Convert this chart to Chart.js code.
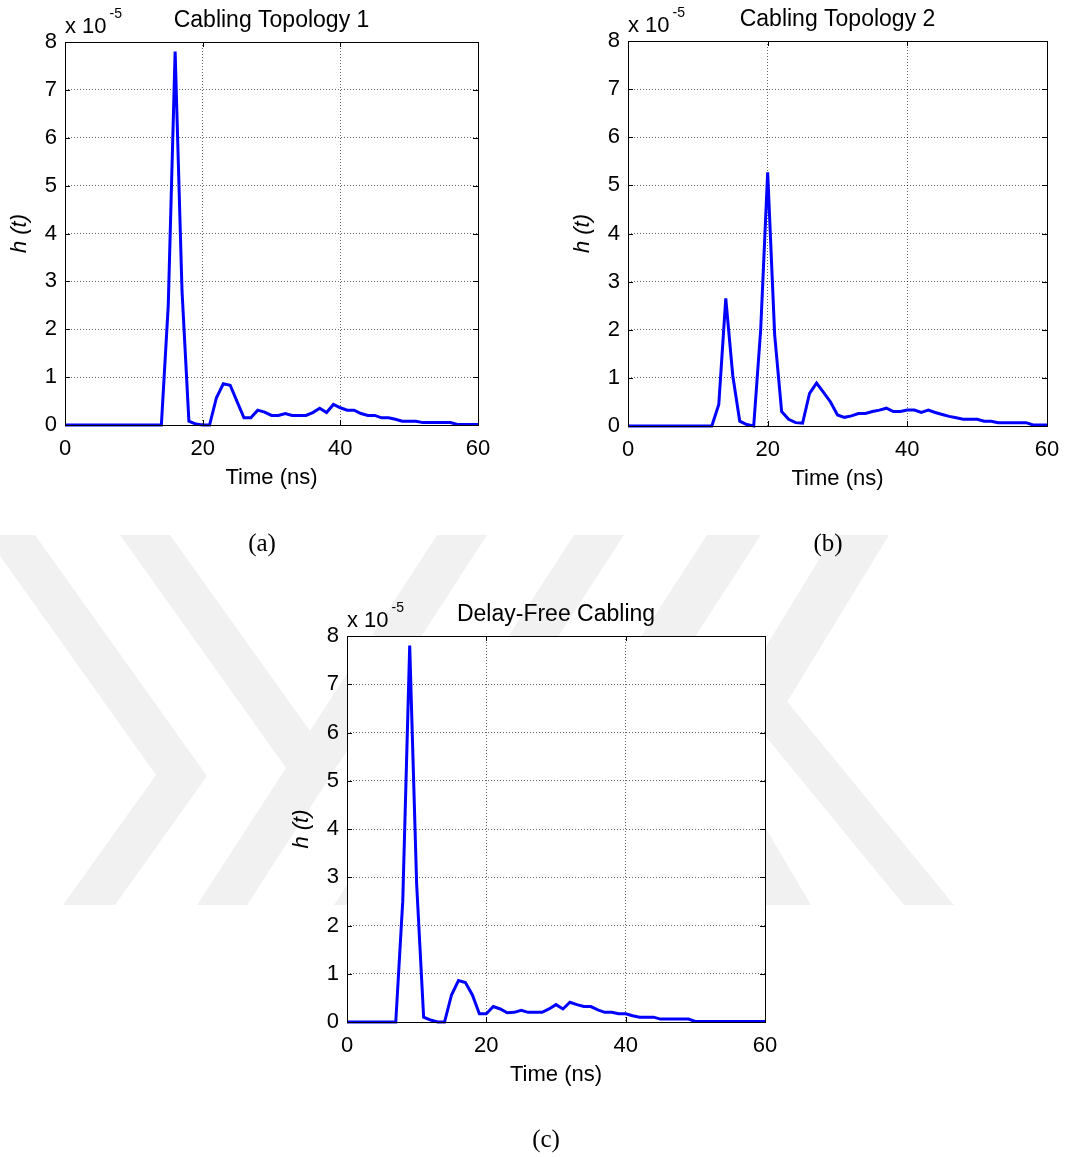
<!DOCTYPE html>
<html>
<head>
<meta charset="utf-8">
<title>Impulse responses</title>
<script src="https://cdn.jsdelivr.net/npm/chart.js@4.4.1/dist/chart.umd.min.js"></script>
<style>
    html, body { margin: 0; padding: 0; background: #fff; }
    #page { position: relative; width: 1069px; height: 1157px; overflow: hidden; }
    #watermark { position: absolute; left: 0; top: 0; }
    .plot { position: absolute; }
    .caption {
        position: absolute;
        font-family: "Liberation Serif", "Times New Roman", serif;
        font-size: 25px;
        color: #000;
        transform: translate(-50%, -50%);
        white-space: nowrap;
    }
</style>
</head>
<body>
<div id="page">
    <canvas id="watermark" width="1069" height="1157"></canvas>
    <canvas id="chartA" class="plot"></canvas>
    <canvas id="chartB" class="plot"></canvas>
    <canvas id="chartC" class="plot"></canvas>
    <div class="caption" style="left:262px; top:543px;">(a)</div>
    <div class="caption" style="left:828px; top:543px;">(b)</div>
    <div class="caption" style="left:546px; top:1139px;">(c)</div>
</div>
<script>
// --- data (h(t) in units of 1e-5) ---
const timeNs = [0, 1, 2, 3, 4, 5, 6, 7, 8, 9, 10, 11, 12, 13, 14, 15, 16, 17, 18, 19, 20,
    21, 22, 23, 24, 25, 26, 27, 28, 29, 30, 31, 32, 33, 34, 35, 36, 37, 38, 39, 40,
    41, 42, 43, 44, 45, 46, 47, 48, 49, 50, 51, 52, 53, 54, 55, 56, 57, 58, 59, 60];

const hTopology1 = [0, 0, 0, 0, 0, 0, 0, 0, 0, 0, 0, 0, 0, 0, 0, 2.5, 7.8, 2.8, 0.08, 0.02, 0,
    0, 0.57, 0.86, 0.83, 0.49, 0.15, 0.15, 0.31, 0.27, 0.2, 0.2, 0.24, 0.2, 0.2, 0.2, 0.26, 0.35, 0.26, 0.43, 0.36,
    0.31, 0.31, 0.24, 0.2, 0.2, 0.15, 0.15, 0.12, 0.08, 0.08, 0.08, 0.05, 0.05, 0.05, 0.05, 0.05, 0.01, 0.01, 0.01, 0.01];

const hTopology2 = [0, 0, 0, 0, 0, 0, 0, 0, 0, 0, 0, 0, 0, 0.45, 2.65, 1.05, 0.1, 0.03, 0, 2.0, 5.27,
    1.9, 0.3, 0.14, 0.07, 0.06, 0.68, 0.89, 0.7, 0.5, 0.23, 0.18, 0.21, 0.26, 0.26, 0.3, 0.33, 0.37, 0.3, 0.3, 0.33,
    0.33, 0.28, 0.33, 0.28, 0.24, 0.2, 0.17, 0.14, 0.14, 0.14, 0.1, 0.1, 0.07, 0.07, 0.07, 0.07, 0.07, 0.02, 0.02, 0.02];

const hDelayFree = [0, 0, 0, 0, 0, 0, 0, 0, 2.5, 7.8, 2.85, 0.1, 0.04, 0, 0, 0.56, 0.86, 0.82, 0.56, 0.17, 0.17,
    0.32, 0.27, 0.19, 0.2, 0.24, 0.2, 0.2, 0.2, 0.27, 0.36, 0.27, 0.41, 0.36, 0.32, 0.32, 0.25, 0.2, 0.2, 0.17, 0.17,
    0.13, 0.1, 0.1, 0.1, 0.06, 0.06, 0.06, 0.06, 0.06, 0.01, 0.01, 0.01, 0.01, 0.01, 0.01, 0.01, 0.01, 0.01, 0.01, 0.01];

const xTicks = [0, 20, 40, 60];
const yTicks = [0, 1, 2, 3, 4, 5, 6, 7, 8];
const xTitle = 'Time (ns)';
const yTitle = 'h (t)';
const yExponent = '-5';
const panelTitles = ['Cabling Topology 1', 'Cabling Topology 2', 'Delay-Free Cabling'];

// --- layout ---
const FONT = '"Liberation Sans", Arial, Helvetica, sans-serif';
const Y_AXIS_W = 65;     // room left of the axes for tick labels + y title
const X_AXIS_H = 75;     // room under the axes for tick labels + x title
const TITLE_H = 42;      // room above the axes
const RIGHT_PAD = 24;    // must cover half of the last x label

const panels = [
    { canvas: 'chartA', title: panelTitles[0], values: hTopology1, box: { left: 65, top: 42, right: 478, bottom: 425 } },
    { canvas: 'chartB', title: panelTitles[1], values: hTopology2, box: { left: 628, top: 41, right: 1047, bottom: 426 } },
    { canvas: 'chartC', title: panelTitles[2], values: hDelayFree, box: { left: 347, top: 636, right: 765, bottom: 1022 } }
];

// Faint thesis watermark behind the figure
const drawWatermark = () => {
    const ctx = document.getElementById('watermark').getContext('2d');
    const bands = [
        [[-15, 535], [35, 535], [207, 776], [115, 905], [63, 905], [156, 775]],
        [[120, 535], [170, 535], [310, 731], [286, 768]],
        [[437, 535], [487, 535], [247, 905], [197, 905]],
        [[574, 535], [624, 535], [384, 905], [334, 905]],
        [[707, 535], [761, 535], [521, 905], [467, 905]],
        [[834, 535], [889, 535], [663, 905], [608, 905]],
        [[699, 655], [749, 655], [954, 905], [904, 905]],
        [[640, 700], [690, 700], [811, 905], [761, 905]]
    ];
    ctx.fillStyle = '#f1f1f1';
    bands.forEach(poly => {
        ctx.beginPath();
        poly.forEach(([x, y], i) => i ? ctx.lineTo(x, y) : ctx.moveTo(x, y));
        ctx.closePath();
        ctx.fill();
    });
};

// MATLAB-style axes: white plot area, full box, inward ticks, exponent label
const matlabAxes = {
    id: 'matlabAxes',
    beforeDraw(chart) {
        const { ctx, chartArea: a } = chart;
        ctx.save();
        ctx.fillStyle = '#fff';
        ctx.fillRect(a.left, a.top, a.right - a.left, a.bottom - a.top);
        ctx.restore();
    },
    afterDraw(chart) {
        const { ctx, chartArea: a, scales: { x, y } } = chart;
        const tick = 5;
        ctx.save();
        ctx.setLineDash([]);
        ctx.strokeStyle = '#000';
        ctx.lineWidth = 1;
        ctx.beginPath();
        x.ticks.forEach(t => {
            const px = Math.round(x.getPixelForValue(t.value)) + 0.5;
            ctx.moveTo(px, a.bottom); ctx.lineTo(px, a.bottom - tick);
            ctx.moveTo(px, a.top); ctx.lineTo(px, a.top + tick);
        });
        y.ticks.forEach(t => {
            const py = Math.round(y.getPixelForValue(t.value)) + 0.5;
            ctx.moveTo(a.left, py); ctx.lineTo(a.left + tick, py);
            ctx.moveTo(a.right, py); ctx.lineTo(a.right - tick, py);
        });
        ctx.stroke();
        ctx.strokeRect(Math.round(a.left) + 0.5, Math.round(a.top) + 0.5,
            Math.round(a.right - a.left), Math.round(a.bottom - a.top));

        // "x 10^-5" multiplier
        ctx.fillStyle = '#000';
        ctx.textAlign = 'left';
        ctx.textBaseline = 'alphabetic';
        ctx.font = '22px ' + FONT;
        const base = 'x 10';
        ctx.fillText(base, a.left, a.top - 9);
        const w = ctx.measureText(base).width;
        ctx.font = '14px ' + FONT;
        ctx.fillText(yExponent, a.left + w + 3, a.top - 24);
        ctx.restore();
    }
};

const buildChart = (panel) => {
    const { box } = panel;
    const canvas = document.getElementById(panel.canvas);
    const width = (box.right - box.left) + Y_AXIS_W + RIGHT_PAD;
    const height = (box.bottom - box.top) + TITLE_H + X_AXIS_H;
    canvas.width = width;
    canvas.height = height;
    canvas.style.left = (box.left - Y_AXIS_W) + 'px';
    canvas.style.top = (box.top - TITLE_H) + 'px';
    canvas.style.width = width + 'px';
    canvas.style.height = height + 'px';

    const gridStyle = { color: 'rgba(0,0,0,0.6)', lineWidth: 1, drawTicks: false };
    const tickFont = { family: FONT, size: 22 };

    return new Chart(canvas.getContext('2d'), {
        type: 'line',
        data: {
            datasets: [{
                data: timeNs.map((t, i) => ({ x: t, y: panel.values[i] })),
                borderColor: '#0000ff',
                borderWidth: 3,
                pointRadius: 0,
                tension: 0,
                fill: false,
                clip: 4
            }]
        },
        options: {
            responsive: false,
            animation: false,
            devicePixelRatio: 1,
            layout: { padding: { left: 0, right: RIGHT_PAD, top: 0, bottom: 0 } },
            plugins: {
                legend: { display: false },
                tooltip: { enabled: false },
                title: {
                    display: true,
                    text: panel.title,
                    fullSize: false,
                    color: '#000',
                    font: { family: FONT, size: 23, weight: 'normal', lineHeight: 1.2 },
                    padding: { top: 6.5, bottom: TITLE_H - 27.6 - 6.5 }
                }
            },
            scales: {
                x: {
                    type: 'linear',
                    min: 0, max: 60,
                    afterBuildTicks: (scale) => { scale.ticks = xTicks.map(v => ({ value: v })); },
                    afterFit: (scale) => { scale.height = X_AXIS_H; },
                    grid: gridStyle,
                    border: { display: false, dash: [1, 2] },
                    ticks: { color: '#000', font: tickFont, padding: 10.5, maxRotation: 0, autoSkip: false },
                    title: {
                        display: true, text: xTitle, color: '#000',
                        font: { family: FONT, size: 22 },
                        padding: { top: 0, bottom: 9 }
                    }
                },
                y: {
                    type: 'linear',
                    min: 0, max: 8,
                    afterBuildTicks: (scale) => { scale.ticks = yTicks.map(v => ({ value: v })); },
                    afterFit: (scale) => { scale.width = Y_AXIS_W; },
                    grid: gridStyle,
                    border: { display: false, dash: [1, 2] },
                    ticks: { color: '#000', font: tickFont, padding: 8 },
                    title: {
                        display: true, text: yTitle, color: '#000',
                        font: { family: FONT, size: 22, style: 'italic' },
                        padding: { top: 7, bottom: 0 }
                    }
                }
            }
        },
        plugins: [matlabAxes]
    });
};

document.addEventListener('DOMContentLoaded', () => {
    drawWatermark();
    panels.forEach(buildChart);
});
</script>
</body>
</html>
